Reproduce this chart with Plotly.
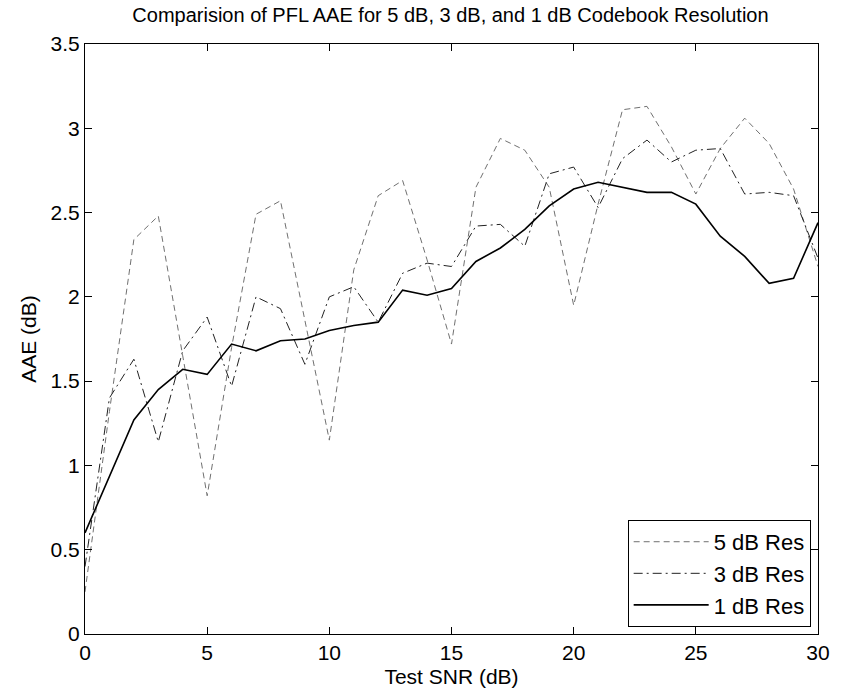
import plotly.graph_objects as go

snr = list(range(0, 31))

res5 = [0.25, 1.32, 2.34, 2.48, 1.65, 0.82, 1.70, 2.49, 2.57, 1.86,
        1.15, 2.16, 2.60, 2.69, 2.22, 1.72, 2.65, 2.94, 2.87, 2.65,
        1.95, 2.55, 3.11, 3.13, 2.89, 2.61, 2.88, 3.06, 2.91, 2.64,
        2.18]

res3 = [0.40, 1.40, 1.63, 1.14, 1.68, 1.88, 1.47, 2.00, 1.93, 1.60,
        2.00, 2.06, 1.85, 2.14, 2.20, 2.18, 2.42, 2.43, 2.30, 2.73,
        2.77, 2.53, 2.82, 2.93, 2.80, 2.87, 2.88, 2.61, 2.62, 2.60,
        2.23]

res1 = [0.60, 0.93, 1.27, 1.45, 1.57, 1.54, 1.72, 1.68, 1.74, 1.75,
        1.80, 1.83, 1.85, 2.04, 2.01, 2.05, 2.21, 2.29, 2.40, 2.54,
        2.64, 2.68, 2.65, 2.62, 2.62, 2.55, 2.36, 2.24, 2.08, 2.11,
        2.44]

series_names = ["5 dB Res", "3 dB Res", "1 dB Res"]
x_ticks = [0, 5, 10, 15, 20, 25, 30]
y_ticks = [0, 0.5, 1, 1.5, 2, 2.5, 3, 3.5]

FONT = "Liberation Sans, Arial, sans-serif"

fig = go.Figure()
fig.add_trace(go.Scatter(x=snr, y=res5, mode="lines", name=series_names[0],
                         line=dict(color="#707070", width=1, dash="6px,4px")))
fig.add_trace(go.Scatter(x=snr, y=res3, mode="lines", name=series_names[1],
                         line=dict(color="#222222", width=1, dash="9px,4px,2px,4px")))
fig.add_trace(go.Scatter(x=snr, y=res1, mode="lines", name=series_names[2],
                         line=dict(color="#000000", width=1.6)))

axis_common = dict(
    showline=True, linecolor="black", linewidth=1, mirror="allticks",
    ticks="inside", ticklen=7, tickcolor="black", tickwidth=1,
    showgrid=False, zeroline=False,
    tickfont=dict(family=FONT, size=21, color="black"),
)

fig.update_layout(
    width=842, height=697,
    margin=dict(l=85, r=13, t=44, b=63),
    paper_bgcolor="white", plot_bgcolor="white",
    font=dict(family=FONT, color="black"),
    title=dict(text="Comparision of PFL AAE for 5 dB, 3 dB, and 1 dB Codebook Resolution",
               x=0.535, xanchor="center", y=0.988, yanchor="top",
               font=dict(family=FONT, size=20, color="black")),
    xaxis=dict(range=[0, 30], tickvals=x_ticks, ticktext=[str(v) for v in x_ticks],
               title=dict(text="Test SNR (dB)", font=dict(family=FONT, size=21), standoff=6),
               **axis_common),
    yaxis=dict(range=[0, 3.5], tickvals=y_ticks, ticktext=[("%g" % v) for v in y_ticks],
               title=dict(text="AAE (dB)", font=dict(family=FONT, size=21), standoff=8),
               **axis_common),
    legend=dict(x=0.99, xanchor="right", y=0.012, yanchor="bottom",
                bgcolor="white", bordercolor="black", borderwidth=1,
                font=dict(family=FONT, size=22, color="black"),
                itemwidth=75, tracegroupgap=0),
    showlegend=True,
)

fig.write_html("out.html")
